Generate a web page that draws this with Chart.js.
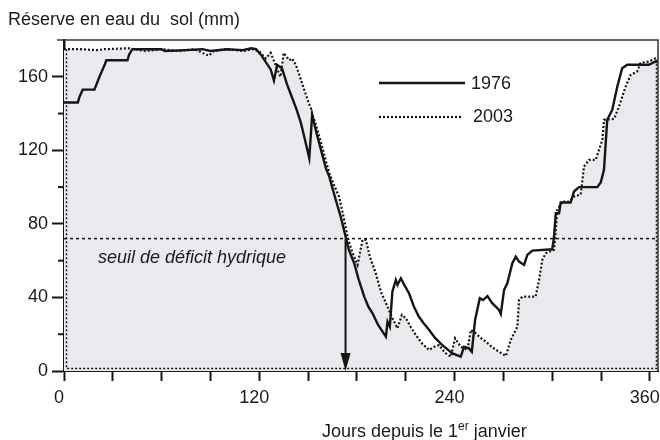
<!DOCTYPE html>
<html lang="fr">
<head>
<meta charset="utf-8">
<title>Réserve en eau du sol</title>
<script src="https://cdn.jsdelivr.net/npm/chart.js@4/dist/chart.umd.min.js"></script>
<style>
  html, body { margin: 0; padding: 0; background: #fff; }
  #cadre { width: 660px; height: 440px; }
</style>
</head>
<body>
<div id="cadre"><canvas id="graphe"></canvas></div>
<script>
// ---------------------------------------------------------------------------
// Réserve en eau du sol (mm) — comparaison 1976 / 2003
// ---------------------------------------------------------------------------

// 1976 (trait plein) : jour de l'année / réserve en mm
const jours1976 = [
  0, 8.5, 9.5, 11.5, 18.7, 21.8, 25, 26, 39, 40, 42, 60, 62, 75, 85, 90, 100, 110, 115, 118,
  121, 124, 127, 129, 131, 134, 137, 140, 143, 145.6, 148, 150.7, 152.5, 155, 158, 161, 163,
  167, 170, 172.8, 175, 178.3, 181, 184.5, 187, 189.6, 193, 197.8, 198.8, 200.2, 201.8, 203.9,
  204.9, 207, 209, 212, 215, 218, 221, 224.4, 228, 232.5, 236, 238.7, 243.8, 245.8, 248.9,
  250.6, 252.6, 255.5, 257.5, 260.2, 263, 267.3, 268.4, 270.4, 272.4, 275.5, 277.6, 279.6,
  282.7, 284.7, 287.8, 300, 301, 302.2, 304.2, 305.2, 311.3, 313.4, 316.4, 327.7, 329.8,
  331.8, 333.8, 336.9, 340, 343, 346.1, 359.4, 363.5, 365
];
const reserve1976 = [
  146, 146, 149, 153, 153, 160, 166.5, 169, 169, 172, 175, 175, 174, 174.5, 175, 174, 175, 174.5, 175.5, 175,
  172, 168, 164, 158, 166.5, 164.5, 156, 149, 142, 134.8, 126, 115.7, 139.3, 130, 120, 110, 105.7,
  93, 84, 74, 66, 58.6, 50, 40.4, 35, 31.4, 25, 18.7, 26.8, 24.1, 43.2, 49.5,
  46.8, 50.4, 47, 42.3, 35, 29.6, 26, 22.3, 18, 14.1, 11.5, 9.6, 7.8, 13.2, 12.3,
  10.5, 27.8, 39.6, 38.6, 40.8, 37, 33.2, 31, 44, 47.7, 58.6, 62.2, 59.5,
  57.7, 63.1, 65.5, 66.2, 72, 85.8, 85.8, 91.6, 91.6, 97.6, 100, 100, 102.5,
  109.4, 136.6, 142, 154.7, 164.7, 166.5, 166.5, 168.3, 168
];

// 2003 (pointillés, surface grisée)
const jours2003 = [
  0, 10, 20, 25, 40, 50, 60, 70, 80, 89, 92, 100, 110, 116, 120, 124, 127, 130, 133, 135,
  138.4, 140, 142.5, 145.6, 149.7, 151.7, 152.7, 154.8, 158, 161, 163, 166, 169, 172, 174.2,
  177, 180.4, 183.4, 185.5, 188, 191.6, 194.7, 198.8, 201.8, 204.9, 207.6, 210.1, 213, 216.2,
  220, 224.4, 227, 230.5, 234, 237.7, 240.3, 243.8, 247.9, 250, 253, 256, 259.2, 263, 267.3,
  271.5, 274.5, 278.6, 279.6, 281.6, 289.8, 291.9, 293.9, 296, 301.1, 302.2, 303.1, 306.2,
  310.3, 313.4, 317.5, 319.5, 322.6, 326.7, 328.7, 330.8, 331.8, 338, 341, 345.1, 348.2,
  352.2, 354.3, 359.4, 363.5, 365
];
const reserve2003 = [
  175, 175, 174.5, 175, 175.5, 174, 175, 174, 175, 171.5, 174, 175, 174, 175, 173.8, 170, 173, 166.5, 160, 173,
  169, 170, 166.5, 158.4, 147.5, 143, 139.3, 133.9, 124, 114, 107.6, 101, 94.9, 83, 73,
  65, 57.7, 71.3, 71.3, 62, 53.2, 43.2, 35, 28.7, 23.2, 30.5, 28.7, 24, 19.6,
  15, 11.4, 13, 14.1, 10, 7.8, 17.8, 13.2, 11.4, 22.3, 20.5, 18, 16, 13, 10.5,
  8.2, 16.9, 24.1, 38.6, 40.4, 40.4, 49.5, 60.4, 64, 65.9, 76.7, 87.6, 92.1,
  92.1, 94.9, 96, 111.2, 114.8, 114.8, 120.3, 125.7, 136.6, 137.1, 143.8, 154.7, 161,
  162.9, 167.5, 168.3, 170, 170
];

// seuil de déficit hydrique et jour où 1976 le franchit
const seuilDeficit = 72;
const jourFranchissement = 173;

// graduations
const ticksJours = [0, 30, 60, 90, 120, 150, 180, 210, 240, 270, 300, 330, 360];
const ticksReserve = [0, 40, 80, 120, 160];
const ticksReserveMineurs = [20, 60, 100, 140];

const POLICE = '"Liberation Sans", Arial, Helvetica, sans-serif';
const NOIR = '#151515';
const GRIS_FOND = '#E9EAED';

const enPoints = (xs, ys) => xs.map((x, i) => ({ x, y: ys[i] }));

// --- Habillage : cadre, petites graduations, flèche, textes -----------------
const habillage = {
  id: 'habillage',
  afterDraw(chart) {
    const { ctx, chartArea: a, scales: { x, y } } = chart;
    ctx.save();

    // cadre haut / droite
    ctx.strokeStyle = '#333';
    ctx.lineWidth = 1.5;
    ctx.beginPath();
    ctx.moveTo(57, a.top);
    ctx.lineTo(a.right, a.top);
    ctx.lineTo(a.right, a.bottom);
    ctx.stroke();

    // contour pointillé de la surface 2003 (bords gauche, bas, droit)
    ctx.setLineDash([2, 2]);
    ctx.strokeStyle = NOIR;
    ctx.lineWidth = 1.5;
    ctx.beginPath();
    ctx.moveTo(a.left + 2.5, y.getPixelForValue(reserve2003[0]));
    ctx.lineTo(a.left + 2.5, a.bottom - 2.5);
    ctx.lineTo(a.right - 1.5, a.bottom - 2.5);
    ctx.lineTo(a.right - 1.5, y.getPixelForValue(reserve2003[reserve2003.length - 1]));
    ctx.stroke();
    ctx.setLineDash([]);

    // graduations mineures de l'axe des réserves
    ctx.strokeStyle = NOIR;
    ctx.lineWidth = 2;
    ticksReserveMineurs.forEach((v) => {
      const py = y.getPixelForValue(v);
      ctx.beginPath();
      ctx.moveTo(a.left - 6, py);
      ctx.lineTo(a.left, py);
      ctx.stroke();
    });

    // pointe de la flèche
    const px = x.getPixelForValue(jourFranchissement);
    const pb = y.getPixelForValue(0);
    ctx.fillStyle = NOIR;
    ctx.beginPath();
    ctx.moveTo(px, pb);
    ctx.lineTo(px - 5, pb - 18);
    ctx.lineTo(px + 5, pb - 18);
    ctx.closePath();
    ctx.fill();

    // textes
    ctx.fillStyle = '#1a1a1a';
    ctx.textBaseline = 'alphabetic';
    ctx.textAlign = 'left';
    ctx.font = `18px ${POLICE}`;
    ctx.fillText('Réserve en eau du  sol (mm)', 8, 25);

    // titre de l'axe des jours, avec exposant
    const debut = 'Jours depuis le 1';
    const expo = 'er';
    const fin = ' janvier';
    let cx = 322;
    ctx.fillText(debut, cx, 437);
    cx += ctx.measureText(debut).width;
    ctx.font = `12px ${POLICE}`;
    ctx.fillText(expo, cx, 430);
    cx += ctx.measureText(expo).width;
    ctx.font = `18px ${POLICE}`;
    ctx.fillText(fin, cx, 437);

    // étiquette du seuil
    ctx.font = `italic 18px ${POLICE}`;
    ctx.fillText('seuil de déficit hydrique', 98, 263);

    // légende
    ctx.lineWidth = 2.4;
    ctx.strokeStyle = NOIR;
    ctx.beginPath();
    ctx.moveTo(379, 83);
    ctx.lineTo(465, 83);
    ctx.stroke();
    ctx.lineWidth = 2.2;
    ctx.setLineDash([2, 2]);
    ctx.beginPath();
    ctx.moveTo(379, 117);
    ctx.lineTo(463, 117);
    ctx.stroke();
    ctx.setLineDash([]);
    ctx.font = `18px ${POLICE}`;
    ctx.textBaseline = 'middle';
    ctx.fillText('1976', 471, 84);
    ctx.fillText('2003', 473, 117);

    ctx.restore();
  },
};

new Chart(document.querySelector('#graphe'), {
  type: 'line',
  data: {
    datasets: [
      {
        label: '1976',
        data: enPoints(jours1976, reserve1976),
        borderColor: NOIR,
        borderWidth: 2.4,
        pointRadius: 0,
        fill: false,
      },
      {
        label: '2003',
        data: enPoints(jours2003, reserve2003),
        borderColor: NOIR,
        borderWidth: 2.2,
        borderDash: [2, 2],
        pointRadius: 0,
        fill: 'origin',
        backgroundColor: GRIS_FOND,
      },
      {
        label: 'seuil',
        data: [{ x: 0, y: seuilDeficit }, { x: 365, y: seuilDeficit }],
        borderColor: NOIR,
        borderWidth: 1.5,
        borderDash: [3, 3],
        pointRadius: 0,
        fill: false,
      },
      {
        label: 'flèche',
        data: [{ x: jourFranchissement, y: seuilDeficit }, { x: jourFranchissement, y: 6 }],
        borderColor: NOIR,
        borderWidth: 2,
        pointRadius: 0,
        fill: false,
      },
    ],
  },
  options: {
    responsive: true,
    maintainAspectRatio: false,
    animation: false,
    devicePixelRatio: 1,
    layout: { padding: { top: 40, right: 2, left: 0, bottom: 0 } },
    plugins: {
      legend: { display: false },
      tooltip: { enabled: false },
      filler: { drawTime: 'beforeDatasetsDraw' },
    },
    scales: {
      x: {
        type: 'linear',
        min: 0,
        max: 365,
        afterBuildTicks: (s) => { s.ticks = ticksJours.map((v) => ({ value: v })); },
        ticks: {
          autoSkip: false,
          maxRotation: 0,
          padding: 6,
          labelOffset: -5,
          color: '#1a1a1a',
          font: { family: POLICE, size: 18 },
          callback: (v) => (v % 120 === 0 ? String(v) : ''),
        },
        grid: { drawOnChartArea: false, tickLength: 10, tickWidth: 2, tickColor: NOIR },
        border: { color: NOIR, width: 2 },
        afterFit: (s) => { s.height = 69; s.paddingLeft = 0; s.paddingRight = 0; },
      },
      y: {
        min: 0,
        max: 180,
        afterBuildTicks: (s) => { s.ticks = ticksReserve.map((v) => ({ value: v })); },
        ticks: {
          padding: 4,
          color: '#1a1a1a',
          font: { family: POLICE, size: 18 },
        },
        grid: { drawOnChartArea: false, tickLength: 12, tickWidth: 2, tickColor: NOIR },
        border: { color: NOIR, width: 2.5 },
        afterFit: (s) => { s.width = 64; s.paddingTop = 0; s.paddingBottom = 0; },
      },
    },
  },
  plugins: [habillage],
});
</script>
</body>
</html>
